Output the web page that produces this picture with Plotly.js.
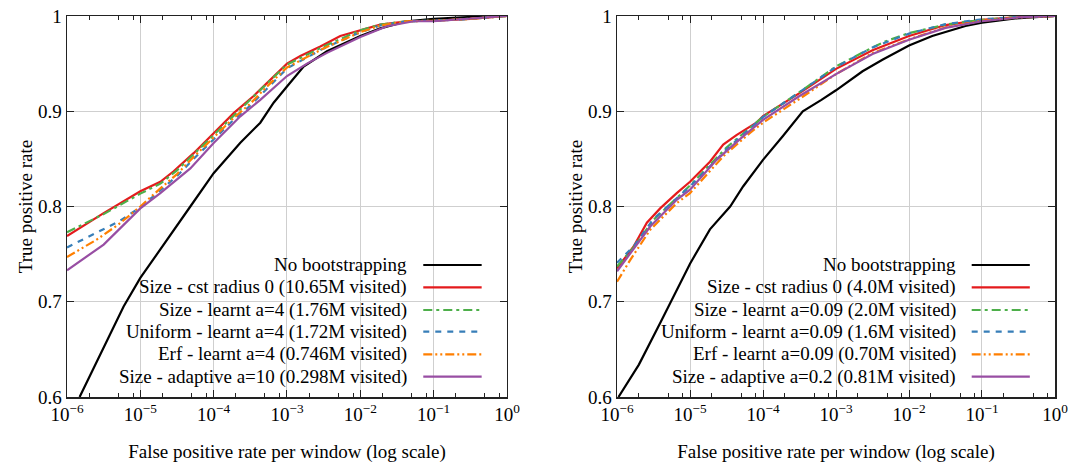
<!DOCTYPE html>
<html>
<head>
<meta charset="utf-8">
<script src="https://cdn.plot.ly/plotly-3.0.1.min.js"></script>
<style>html,body{margin:0;padding:0;background:#fff;}#chart{width:1068px;height:465px;}</style>
</head>
<body>
<div id="chart"></div>
<script>
// ---------- data (false positive rate per window, true positive rate) ----------
const legendLeft = [
  "No bootstrapping",
  "Size - cst radius 0 (10.65M visited)",
  "Size - learnt a=4 (1.76M visited)",
  "Uniform - learnt a=4 (1.72M visited)",
  "Erf - learnt a=4 (0.746M visited)",
  "Size - adaptive a=10 (0.298M visited)"
];
const legendRight = [
  "No bootstrapping",
  "Size - cst radius 0 (4.0M visited)",
  "Size - learnt a=0.09 (2.0M visited)",
  "Uniform - learnt a=0.09 (1.6M visited)",
  "Erf - learnt a=0.09 (0.70M visited)",
  "Size - adaptive a=0.2 (0.81M visited)"
];
const xTickVals = [1e-6, 1e-5, 1e-4, 1e-3, 1e-2, 1e-1, 1];
const xTickText = ["10<sup>−6</sup>", "10<sup>−5</sup>", "10<sup>−4</sup>", "10<sup>−3</sup>", "10<sup>−2</sup>", "10<sup>−1</sup>", "10<sup>0</sup>"];
const yTickVals = [0.6, 0.7, 0.8, 0.9, 1];
const yTickText = ["0.6", "0.7", "0.8", "0.9", "1"];

// Left panel
const L_black_x = [1.486e-6, 3.162e-6, 5.916e-6, 1e-5, 1.875e-5, 4.808e-5, 1e-4, 2.312e-4, 4.325e-4, 6.577e-4, 1e-3, 1.687e-3, 3.508e-3, 1e-2, 1.875e-2, 4.325e-2, 0.1, 0.3162, 1];
const L_black_y = [0.600, 0.652, 0.695, 0.725, 0.7545, 0.800, 0.835, 0.867, 0.888, 0.909, 0.926, 0.947, 0.963, 0.979, 0.987, 0.9945, 0.997, 0.999, 1.0];
const L_red_x = [1e-6, 3.162e-6, 1e-5, 1.875e-5, 2.844e-5, 5.333e-5, 1e-4, 1.875e-4, 3.508e-4, 5.333e-4, 1e-3, 1.521e-3, 2.851e-3, 5.333e-3, 1e-2, 1.875e-2, 4.325e-2, 0.1, 0.3162, 0.631, 1];
const L_red_y = [0.769, 0.793, 0.816, 0.826, 0.837, 0.856, 0.877, 0.898, 0.916, 0.930, 0.950, 0.958, 0.968, 0.979, 0.985, 0.991, 0.9945, 0.995, 0.997, 0.999, 1.0];
const L_green_x = [1e-6, 3.162e-6, 1e-5, 1.875e-5, 3.162e-5, 5.333e-5, 1e-4, 1.875e-4, 3.162e-4, 5.333e-4, 1e-3, 3.162e-3, 1e-2, 1.875e-2, 4.325e-2, 0.1, 0.3162, 1];
const L_green_y = [0.773, 0.792, 0.8135, 0.824, 0.838, 0.855, 0.875, 0.896, 0.912, 0.929, 0.949, 0.968, 0.985, 0.991, 0.9945, 0.995, 0.997, 1.0];
const L_blue_x = [1e-6, 2.512e-6, 5.012e-6, 1e-5, 1.875e-5, 3.162e-5, 5.333e-5, 1e-4, 1.875e-4, 3.162e-4, 5.333e-4, 1e-3, 3.162e-3, 1e-2, 1.875e-2, 4.325e-2, 0.1, 0.3162, 1];
const L_blue_y = [0.757, 0.772, 0.784, 0.799, 0.817, 0.832, 0.850, 0.870, 0.891, 0.906, 0.924, 0.945, 0.966, 0.983, 0.990, 0.9945, 0.995, 0.997, 1.0];
const L_orange_x = [1e-6, 2.512e-6, 5.012e-6, 1e-5, 1.875e-5, 3.162e-5, 5.333e-5, 1e-4, 1.875e-4, 3.162e-4, 5.333e-4, 1e-3, 3.162e-3, 1e-2, 1.875e-2, 4.325e-2, 0.1, 0.3162, 1];
const L_orange_y = [0.747, 0.765, 0.781, 0.800, 0.819, 0.834, 0.852, 0.872, 0.893, 0.908, 0.926, 0.946, 0.966, 0.983, 0.990, 0.9945, 0.995, 0.997, 1.0];
const L_purple_x = [1e-6, 3.162e-6, 1e-5, 1.875e-5, 4.808e-5, 1e-4, 2.312e-4, 4.325e-4, 1e-3, 1.875e-3, 3.508e-3, 6.607e-3, 1e-2, 2.312e-2, 5.333e-2, 0.1, 0.4325, 1];
const L_purple_y = [0.733, 0.760, 0.798, 0.814, 0.840, 0.8667, 0.8947, 0.912, 0.937, 0.950, 0.9613, 0.9718, 0.978, 0.9893, 0.9945, 0.9945, 0.998, 1.0];

// Right panel
const R_black_x = [1.047e-6, 1.995e-6, 3.981e-6, 1e-5, 1.875e-5, 3.548e-5, 5.333e-5, 1e-4, 1.875e-4, 3.508e-4, 6.31e-4, 1e-3, 2.312e-3, 4.325e-3, 1e-2, 2.080e-2, 5.93e-2, 0.1, 0.2851, 1];
const R_black_y = [0.600, 0.634, 0.679, 0.740, 0.776, 0.800, 0.821, 0.849, 0.874, 0.900, 0.912, 0.922, 0.942, 0.954, 0.969, 0.979, 0.9895, 0.993, 0.9974, 1.0];
const R_red_x = [1e-6, 1.687e-6, 2.564e-6, 3.899e-6, 6.577e-6, 1e-5, 1.875e-5, 2.851e-5, 4.325e-5, 8.110e-5, 1e-4, 3.162e-4, 1e-3, 3.162e-3, 1e-2, 3.162e-2, 0.1, 0.3162, 1];
const R_red_y = [0.735, 0.758, 0.783, 0.798, 0.814, 0.826, 0.847, 0.865, 0.875, 0.888, 0.895, 0.919, 0.9445, 0.964, 0.979, 0.9905, 0.996, 0.999, 1.0];
const R_green_x = [1e-6, 1.687e-6, 3.162e-6, 1e-5, 3.162e-5, 1e-4, 3.162e-4, 1e-3, 3.162e-3, 4.808e-3, 1e-2, 3.162e-2, 0.1, 0.3162, 1];
const R_green_y = [0.737, 0.757, 0.786, 0.822, 0.862, 0.894, 0.920, 0.947, 0.967, 0.9735, 0.982, 0.991, 0.996, 0.999, 1.0];
const R_blue_x = [1e-6, 1.687e-6, 3.162e-6, 1e-5, 3.162e-5, 1e-4, 3.162e-4, 1e-3, 3.162e-3, 1e-2, 3.162e-2, 0.1, 0.3162, 1];
const R_blue_y = [0.741, 0.758, 0.787, 0.821, 0.860, 0.894, 0.920, 0.9465, 0.967, 0.9815, 0.9915, 0.9965, 0.999, 1.0];
const R_orange_x = [1e-6, 1.521e-6, 2.851e-6, 6.577e-6, 1e-5, 2.851e-5, 6.577e-5, 1e-4, 3.162e-4, 1e-3, 3.162e-3, 1e-2, 3.162e-2, 0.1, 0.3162, 1];
const R_orange_y = [0.721, 0.744, 0.7756, 0.8035, 0.814, 0.8526, 0.877, 0.888, 0.913, 0.939, 0.961, 0.9755, 0.988, 0.995, 0.9985, 1.0];
const R_purple_x = [1e-6, 1.875e-6, 2.851e-6, 6.577e-6, 1e-5, 2.312e-5, 5.333e-5, 1e-4, 3.162e-4, 1e-3, 3.162e-3, 1e-2, 3.162e-2, 0.1, 0.3162, 1];
const R_purple_y = [0.732, 0.760, 0.779, 0.807, 0.8176, 0.849, 0.8736, 0.891, 0.916, 0.939, 0.960, 0.975, 0.9875, 0.9945, 0.9985, 1.0];

// ---------- styling ----------
const FONT = "Liberation Serif";
const FS = 19;
const colors = ["#000000", "#e41a1c", "#4daf4a", "#377eb8", "#ff7f00", "#984ea3"];
const dashes = ["solid", "solid", "9px,4px,3px,4px", "6px,6px", "9px,3px,2px,3px,2px,3px", "solid"];

const leftSets = [[L_black_x, L_black_y], [L_red_x, L_red_y], [L_green_x, L_green_y], [L_blue_x, L_blue_y], [L_orange_x, L_orange_y], [L_purple_x, L_purple_y]];
const rightSets = [[R_black_x, R_black_y], [R_red_x, R_red_y], [R_green_x, R_green_y], [R_blue_x, R_blue_y], [R_orange_x, R_orange_y], [R_purple_x, R_purple_y]];

const traces = [];
leftSets.forEach((s, i) => traces.push({x: s[0], y: s[1], xaxis: "x", yaxis: "y", type: "scatter", mode: "lines",
  name: legendLeft[i], showlegend: false, line: {color: colors[i], width: 2.2, dash: dashes[i]}, hoverinfo: "skip"}));
rightSets.forEach((s, i) => traces.push({x: s[0], y: s[1], xaxis: "x2", yaxis: "y2", type: "scatter", mode: "lines",
  name: legendRight[i], showlegend: false, line: {color: colors[i], width: 2.2, dash: dashes[i]}, hoverinfo: "skip"}));

const minorVals = [];
[1e-6, 1e-5, 1e-4, 1e-3, 1e-2, 1e-1].forEach(d => [2, 5, 8].forEach(m => minorVals.push(m * d)));

function xAxis(domain, anchor) {
  return {
    domain: domain, anchor: anchor, type: "log", range: [-6, 0],
    tickmode: "array", tickvals: xTickVals, ticktext: xTickText,
    ticks: "inside", ticklen: 7, tickwidth: 1, tickcolor: "#222",
    showline: true, linecolor: "#222", linewidth: 1.5, mirror: "ticks",
    showgrid: true, gridcolor: "#cfcfcf", gridwidth: 1, zeroline: false,
    minor: {tickmode: "array", tickvals: minorVals, ticks: "inside", ticklen: 4, tickwidth: 1, tickcolor: "#222", showgrid: false},
    tickfont: {family: FONT, size: FS, color: "#000"},
    ticklabeloverflow: "allow",
    title: {text: "False positive rate per window (log scale)", font: {family: FONT, size: FS, color: "#000"}, standoff: 20},
    automargin: false
  };
}
function yAxis(anchor) {
  return {
    domain: [0, 1], anchor: anchor, range: [0.6, 1],
    tickmode: "array", tickvals: yTickVals, ticktext: yTickText,
    ticks: "inside", ticklen: 7, tickwidth: 1, tickcolor: "#222",
    showline: true, linecolor: "#222", linewidth: 1.5, mirror: "ticks",
    showgrid: true, gridcolor: "#cfcfcf", gridwidth: 1, zeroline: false,
    tickfont: {family: FONT, size: FS, color: "#000"},
    ticklabeloverflow: "allow",
    title: {text: "True positive rate", font: {family: FONT, size: FS, color: "#000"}, standoff: 0},
    automargin: false
  };
}

const shapes = [];
const annotations = [];
const rowY = [0.3465, 0.2879, 0.2283, 0.1714, 0.1121, 0.0533];
[["x", "y", legendLeft], ["x2", "y2", legendRight]].forEach(p => {
  const xr = p[0] + " domain", yr = p[1] + " domain";
  // white key box that hides the grid behind the legend (log axis: shape x in log units)
  shapes.push({type: "rect", xref: p[0], yref: p[1], x0: -6, x1: 0, y0: 0.6, y1: 0.7512, fillcolor: "#fff", line: {width: 0}, layer: "below"});
  p[2].forEach((t, i) => {
    annotations.push({xref: xr, yref: yr, x: 0.776, y: rowY[i], xanchor: "right", yanchor: "middle", text: t, showarrow: false,
      font: {family: FONT, size: FS, color: "#000"}, borderpad: 0});
    shapes.push({type: "line", xref: xr, yref: yr, x0: 0.8098, x1: 0.9425, y0: rowY[i], y1: rowY[i],
      line: {color: colors[i], width: 2.2, dash: dashes[i]}, layer: "above"});
  });
});

const layout = {
  width: 1068, height: 465,
  margin: {l: 67, r: 13, t: 16, b: 68, pad: 0},
  paper_bgcolor: "#fff", plot_bgcolor: "#fff",
  font: {family: FONT, size: FS, color: "#000"},
  showlegend: false,
  xaxis: xAxis([0, 0.4453], "y"),
  yaxis: yAxis("x"),
  xaxis2: xAxis([0.5567, 1], "y2"),
  yaxis2: yAxis("x2"),
  shapes: shapes,
  annotations: annotations
};

Plotly.newPlot("chart", traces, layout, {staticPlot: true, displayModeBar: false});
</script>
</body>
</html>
